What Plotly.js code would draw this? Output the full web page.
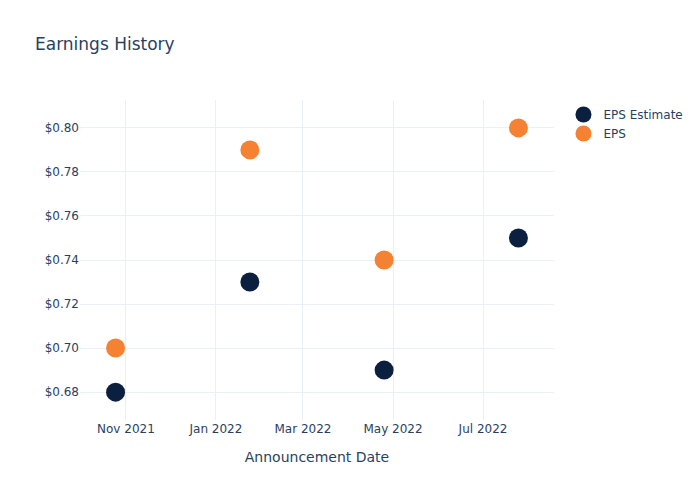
<!DOCTYPE html>
<html>
<head>
<meta charset="utf-8">
<script src="https://cdn.plot.ly/plotly-3.0.1.min.js"></script>
<style>html,body{margin:0;padding:0;background:#fff;}</style>
</head>
<body>
<div id="chart" style="width:700px;height:500px;"></div>
<script>
const dates = ["2021-10-25", "2022-01-24", "2022-04-25", "2022-07-25"];
const epsEstimate = [0.68, 0.73, 0.69, 0.75];
const epsActual = [0.70, 0.79, 0.74, 0.80];

const traces = [
  {
    x: dates, y: epsEstimate, name: "EPS Estimate", mode: "markers", type: "scatter",
    marker: {color: "#0B1F3F", size: 19}
  },
  {
    x: dates, y: epsActual, name: "EPS", mode: "markers", type: "scatter",
    marker: {color: "#F58233", size: 19}
  }
];

const layout = {
  width: 700, height: 500,
  paper_bgcolor: "#fff", plot_bgcolor: "#fff",
  font: {family: "'DejaVu Sans', verdana, arial, sans-serif", color: "#2a3f5f", size: 12},
  title: {text: "Earnings History", x: 0.05, font: {size: 17}},
  xaxis: {
    title: {text: "Announcement Date", font: {size: 14}, standoff: 17},
    type: "date", gridcolor: "#EBF0F8", zeroline: false, showline: false,
    tickformat: "%b %Y", automargin: true
  },
  yaxis: {
    tickprefix: "$", tickformat: ".2f", gridcolor: "#EBF0F8",
    zeroline: false, showline: false, dtick: 0.02
  },
  legend: {font: {size: 12}},
  margin: {l: 80, r: 80, t: 100, b: 80}
};

Plotly.newPlot("chart", traces, layout, {displayModeBar: false});
</script>
</body>
</html>
